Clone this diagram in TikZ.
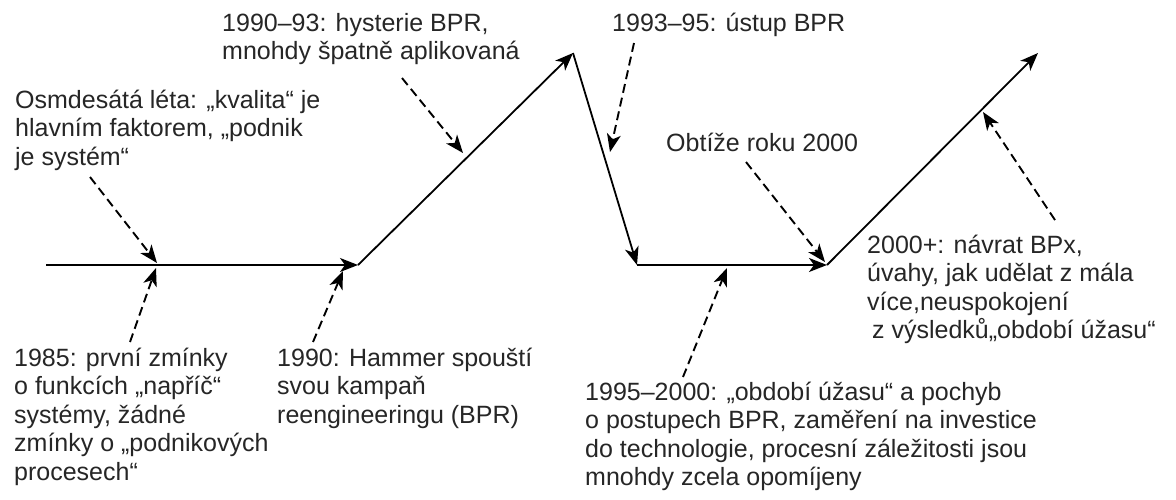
\documentclass[tikz,border=0pt]{standalone}
\usepackage{fontspec}
\setmainfont{Liberation Sans}
\usetikzlibrary{arrows.meta}
\begin{document}
\begin{tikzpicture}[x=1pt,y=-1pt,
  mainline/.style={line width=1.8pt, -{Stealth[length=18pt,width=14pt,inset=5pt]}},
  dasharrow/.style={line width=1.9pt, dash pattern=on 9pt off 5pt, -{Stealth[length=18pt,width=14pt,inset=5pt]}},
  lbl/.style={anchor=base west, inner sep=0pt, align=left, text=black!85, font=\fontsize{25}{28.5}\selectfont}]
\useasboundingbox (0,0) rectangle (1176,499);
\fill[white] (0,0) rectangle (1176,499);
% main path
\coordinate (A) at (46,265);
\coordinate (B) at (358,265);
\coordinate (C) at (573,53);
\coordinate (D) at (637,265);
\coordinate (E) at (827,265);
\coordinate (F) at (1038,53);
\draw[mainline] (A) -- (B);
\draw[mainline] (B) -- (C);
\draw[mainline] (C) -- (D);
\draw[mainline] (D) -- (E);
\draw[mainline] (E) -- (F);
% labels (anchor = baseline of the last line)
\node[lbl] (t1) at (15,165) {Osmdesátá léta: „kvalita“ je\\hlavním faktorem, „podnik\\je systém“};
\node[lbl] (t2) at (222,59.5) {1990–93: hysterie BPR,\\mnohdy špatně aplikovaná};
\node[lbl] (t3) at (612,31) {1993–95: ústup BPR};
\node[lbl] (t4) at (666,151) {Obtíže roku 2000};
\node[lbl] (t5) at (867,338.5) {2000+: návrat BPx,\\úvahy, jak udělat z mála\\více,neuspokojení\\\hspace*{5pt}z výsledků„období úžasu“};
\node[lbl] (t6) at (14,480) {1985: první zmínky\\o funkcích „napříč“\\systémy, žádné\\zmínky o „podnikových\\procesech“};
\node[lbl] (t7) at (277,423) {1990: Hammer spouští\\svou kampaň\\reengineeringu (BPR)};
\node[lbl] (t8) at (585,485.5) {1995–2000: „období úžasu“ a pochyb\\o postupech BPR, zaměření na investice\\do technologie, procesní záležitosti jsou\\mnohdy zcela opomíjeny};
% dashed pointers
\coordinate (s1) at (90,177);   \coordinate (e1) at (157,263);
\coordinate (s2) at (130,342);  \coordinate (e2) at (156,268);
\coordinate (s3) at (313,342);  \coordinate (e3) at (343,271);
\coordinate (s4) at (402,78);   \coordinate (e4) at (463,153);
\coordinate (s5) at (634,43);   \coordinate (e5) at (610,152);
\coordinate (s6) at (746,162);  \coordinate (e6) at (825,262);
\coordinate (s7) at (683,377);  \coordinate (e7) at (727,268);
\coordinate (s8) at (1055,220); \coordinate (e8) at (983,112);
\draw[dasharrow] (s1) -- (e1);
\draw[dasharrow] (s2) -- (e2);
\draw[dasharrow] (s3) -- (e3);
\draw[dasharrow] (s4) -- (e4);
\draw[dasharrow] (s5) -- (e5);
\draw[dasharrow] (s6) -- (e6);
\draw[dasharrow] (s7) -- (e7);
\draw[dasharrow] (s8) -- (e8);
\end{tikzpicture}
\end{document}
